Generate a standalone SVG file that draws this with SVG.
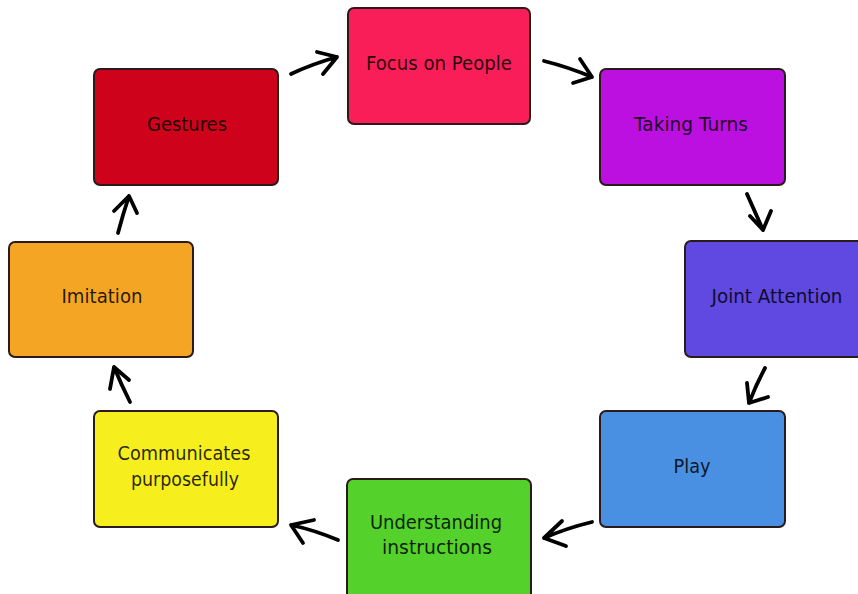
<svg xmlns="http://www.w3.org/2000/svg" width="858" height="594" viewBox="0 0 858 594">
  <style>
    .box { stroke: #2a1a1a; stroke-width: 2; }
    .lbl { font-family: "DejaVu Sans", Verdana, sans-serif; font-size: 19.5px; fill: #000; fill-opacity: 0.85; text-anchor: middle; }
    .arr { fill: none; stroke: #000; stroke-width: 3.8; stroke-linecap: round; stroke-linejoin: round; }
  </style>
  <rect width="858" height="594" fill="#fff"/>

  <g id="focus-on-people">
    <rect class="box" x="348" y="8" width="182" height="116" rx="6" fill="#F91E58"/>
    <text class="lbl" x="439" y="70" textLength="146" lengthAdjust="spacingAndGlyphs">Focus on People</text>
  </g>
  <g id="taking-turns">
    <rect class="box" x="600" y="69" width="185" height="116" rx="6" fill="#BC10E0"/>
    <text class="lbl" x="691" y="131" textLength="114" lengthAdjust="spacingAndGlyphs">Taking Turns</text>
  </g>
  <g id="joint-attention">
    <rect class="box" x="685" y="241" width="185" height="116" rx="6" fill="#5F49E0"/>
    <text class="lbl" x="777" y="303" textLength="131" lengthAdjust="spacingAndGlyphs">Joint Attention</text>
  </g>
  <g id="play">
    <rect class="box" x="600" y="411" width="185" height="116" rx="6" fill="#4A90E2"/>
    <text class="lbl" x="692" y="473" textLength="37" lengthAdjust="spacingAndGlyphs">Play</text>
  </g>
  <g id="understanding-instructions">
    <rect class="box" x="347" y="479" width="184" height="130" rx="6" fill="#54D12A"/>
    <text class="lbl" x="436" y="529" textLength="132" lengthAdjust="spacingAndGlyphs">Understanding</text>
    <text class="lbl" x="437" y="554" textLength="110" lengthAdjust="spacingAndGlyphs">instructions</text>
  </g>
  <g id="communicates-purposefully">
    <rect class="box" x="94" y="411" width="184" height="116" rx="6" fill="#F7EF1D"/>
    <text class="lbl" x="184" y="460" textLength="133" lengthAdjust="spacingAndGlyphs">Communicates</text>
    <text class="lbl" x="185" y="486" textLength="108" lengthAdjust="spacingAndGlyphs">purposefully</text>
  </g>
  <g id="imitation">
    <rect class="box" x="9" y="242" width="184" height="115" rx="6" fill="#F4A524"/>
    <text class="lbl" x="102" y="303" textLength="81" lengthAdjust="spacingAndGlyphs">Imitation</text>
  </g>
  <g id="gestures">
    <rect class="box" x="94" y="69" width="184" height="116" rx="6" fill="#CF021C"/>
    <text class="lbl" x="187" y="131" textLength="80" lengthAdjust="spacingAndGlyphs">Gestures</text>
  </g>

  <g id="connectors">
    <!-- Gestures to Focus on People -->
    <path class="arr" d="M291 74 Q312 64 337 57 M317 52 L337 57 L323 74"/>
    <!-- Focus on People to Taking Turns -->
    <path class="arr" d="M544 61 Q568 67 592 77 M580 59 L592 77 L573 83"/>
    <!-- Taking Turns to Joint Attention -->
    <path class="arr" d="M747 194 Q755 212 763 230 M750 216 L763 230 L771 211"/>
    <!-- Joint Attention to Play -->
    <path class="arr" d="M765 368 Q756 385 749 403 M747 383 L749 403 L768 397"/>
    <!-- Play to Understanding instructions -->
    <path class="arr" d="M592 522 Q567 528 544 538 M562 521 L544 538 L566 546"/>
    <!-- Understanding instructions to Communicates purposefully -->
    <path class="arr" d="M338 540 Q314 530 291 525 M314 520 L291 525 L303 543"/>
    <!-- Communicates purposefully to Imitation -->
    <path class="arr" d="M130 402 Q121 384 114 367 M110 389 L114 367 L129 380"/>
    <!-- Imitation to Gestures -->
    <path class="arr" d="M118 233 Q123 214 129 196 M114 211 L129 196 L137 213"/>
  </g>
</svg>
